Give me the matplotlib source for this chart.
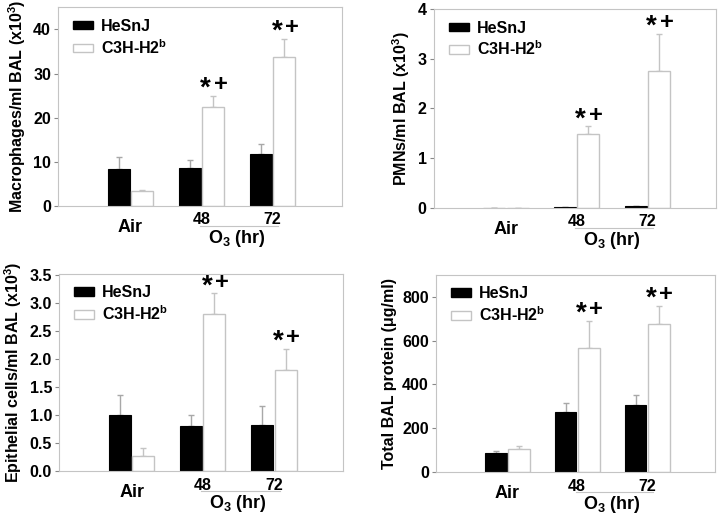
import matplotlib
matplotlib.use('Agg')
import matplotlib.pyplot as plt
from matplotlib.patches import Patch
import matplotlib.transforms as mtransforms
import numpy as np

plt.rcParams['font.family'] = ['Liberation Sans', 'DejaVu Sans']
plt.rcParams['font.weight'] = 'bold'
plt.rcParams['mathtext.fontset'] = 'custom'
plt.rcParams['mathtext.rm'] = 'Liberation Sans:bold'
plt.rcParams['mathtext.bf'] = 'Liberation Sans:bold'
plt.rcParams['mathtext.it'] = 'Liberation Sans:bold'

groups = ['Air', '48', '72']
strains = ['HeSnJ', 'C3H-H2$^\\mathbf{b}$']

# values (mean and upper error)
mac_hesnj = [8.4, 8.6, 11.7]
mac_hesnj_err = [2.7, 1.9, 2.4]
mac_c3h = [3.5, 22.5, 33.7]
mac_c3h_err = [0.1, 2.5, 4.2]

pmn_hesnj = [0.0, 0.01, 0.03]
pmn_hesnj_err = [0.0, 0.0, 0.0]
pmn_c3h = [0.0, 1.48, 2.75]
pmn_c3h_err = [0.0, 0.16, 0.75]

epi_hesnj = [1.0, 0.81, 0.83]
epi_hesnj_err = [0.36, 0.2, 0.33]
epi_c3h = [0.28, 2.81, 1.80]
epi_c3h_err = [0.13, 0.36, 0.38]

prot_hesnj = [88, 273, 308]
prot_hesnj_err = [10, 41, 44]
prot_c3h = [104, 568, 677]
prot_c3h_err = [14, 123, 82]

sig_groups = [1, 2]   # groups marked with *+

panels = [
    dict(pos=[0.080, 0.6015, 0.392, 0.3845], a=mac_hesnj, ae=mac_hesnj_err,
         b=mac_c3h, be=mac_c3h_err, ylim=(0, 45), ticks=[0, 10, 20, 30, 40],
         fmt='%d', ylabel='Macrophages/ml BAL (x10$^\\mathbf{3}$)'),
    dict(pos=[0.599, 0.5977, 0.390, 0.385], a=pmn_hesnj, ae=pmn_hesnj_err,
         b=pmn_c3h, be=pmn_c3h_err, ylim=(0, 4), ticks=[0, 1, 2, 3, 4],
         fmt='%d', ylabel='PMNs/ml BAL (x10$^\\mathbf{3}$)'),
    dict(pos=[0.0815, 0.0884, 0.392, 0.382], a=epi_hesnj, ae=epi_hesnj_err,
         b=epi_c3h, be=epi_c3h_err, ylim=(0, 3.52),
         ticks=[0, 0.5, 1, 1.5, 2, 2.5, 3, 3.5],
         fmt='%.1f', ylabel='Epithelial cells/ml BAL (x10$^\\mathbf{3}$)'),
    dict(pos=[0.602, 0.0865, 0.3856, 0.3822], a=prot_hesnj, ae=prot_hesnj_err,
         b=prot_c3h, be=prot_c3h_err, ylim=(0, 900), ticks=[0, 200, 400, 600, 800],
         fmt='%d', ylabel='Total BAL protein (\u03bcg/ml)'),
]

edge = '#c4c4c4'
fig = plt.figure(figsize=(7.24, 5.17), dpi=100)

for p in panels:
    ax = fig.add_axes(p['pos'])
    x = np.arange(len(groups))
    w = 0.31
    ax.bar(x - 0.165, p['a'], w, color='black', edgecolor='black', lw=0.8, zorder=2)
    ax.bar(x + 0.165, p['b'], w, color='white', edgecolor=edge, lw=1.0, zorder=2)
    ax.errorbar(x - 0.165, p['a'], yerr=[np.zeros(3), p['ae']], fmt='none',
                ecolor='#a8a8a8', elinewidth=1, capsize=2.5, capthick=1, zorder=1)
    ax.errorbar(x + 0.165, p['b'], yerr=[np.zeros(3), p['be']], fmt='none',
                ecolor=edge, elinewidth=1, capsize=2.5, capthick=1, zorder=1)
    for g in sig_groups:
        top = p['b'][g] + p['be'][g]
        ax.annotate('*', xy=(g + 0.165, top), xytext=(-5.5, 0), textcoords='offset points',
                    ha='center', va='baseline', fontsize=20, fontweight='bold')
        ax.annotate('+', xy=(g + 0.165, top), xytext=(5.5, 3.5), textcoords='offset points',
                    ha='center', va='baseline', fontsize=17, fontweight='bold')
    ax.set_xlim(-1.02, 2.97)
    ax.set_ylim(*p['ylim'])
    ax.set_yticks(p['ticks'])
    ax.set_yticklabels([p['fmt'] % t for t in p['ticks']])
    ax.set_xticks([])
    ax.tick_params(axis='y', labelsize=11.5, length=3, width=0.8, color='#888888', pad=2)
    for s in ax.spines.values():
        s.set_color(edge)
        s.set_linewidth(0.8)
    ax.set_ylabel(p['ylabel'], fontsize=11.5, fontweight='bold', labelpad=4)

    trans = ax.get_xaxis_transform()
    ax.annotate('Air', xy=(0, 0), xycoords=trans, xytext=(0, -15.5), textcoords='offset points',
                ha='center', va='center', fontsize=13, fontweight='bold')
    for g in [1, 2]:
        ax.annotate(groups[g], xy=(g, 0), xycoords=trans, xytext=(0, -10),
                    textcoords='offset points', ha='center', va='center',
                    fontsize=11.5, fontweight='bold')
    ln = plt.Line2D([0.98, 2.08], [0, 0], color=edge, lw=0.8, clip_on=False)
    ln.set_transform(trans + mtransforms.ScaledTranslation(0, -0.2, fig.dpi_scale_trans))
    ax.add_line(ln)
    ax.annotate('O$_\\mathbf{3}$ (hr)', xy=(1.5, 0), xycoords=trans, xytext=(0, -23.5),
                textcoords='offset points', ha='center', va='center',
                fontsize=13, fontweight='bold')

    handles = [Patch(facecolor='black', edgecolor='black'),
               Patch(facecolor='white', edgecolor=edge)]
    ax.legend(handles, strains, loc='upper left', bbox_to_anchor=(0.02, 0.99),
              frameon=False, handlelength=1.25, handleheight=0.45,
              handletextpad=0.5, labelspacing=0.25, borderaxespad=0.2,
              prop={'weight': 'bold', 'size': 11.5})

fig.savefig('out.png', dpi=100)
